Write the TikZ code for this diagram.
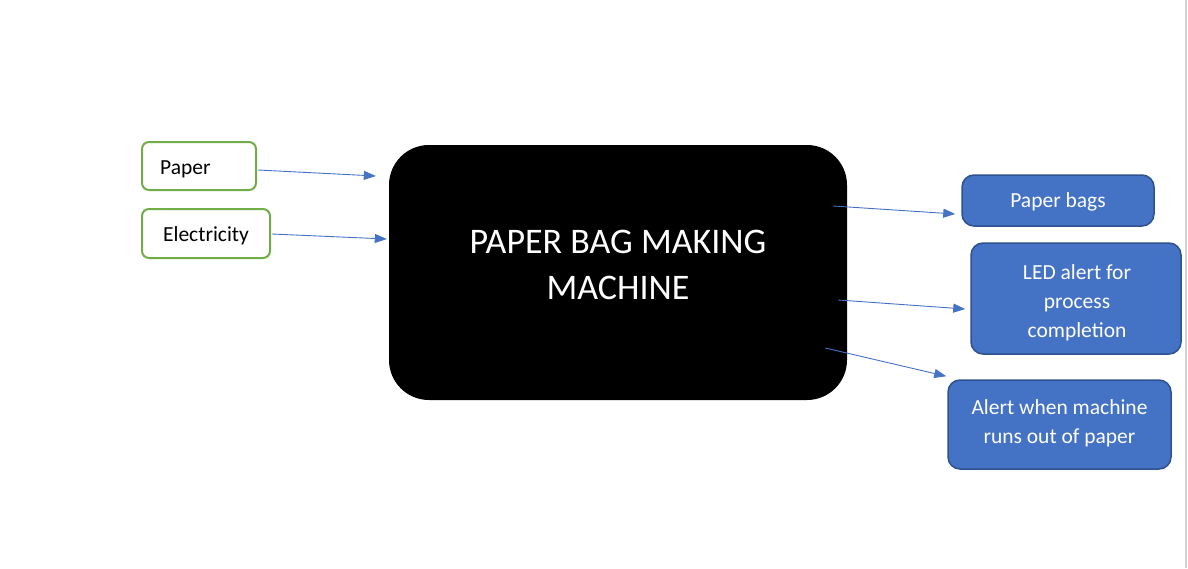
\documentclass[tikz,border=0pt]{standalone}
\usepackage{fontspec}
\setmainfont{Carlito}
\usetikzlibrary{arrows.meta,calc}
\definecolor{accblue}{HTML}{4472C4}
\definecolor{accdark}{HTML}{2F528F}
\definecolor{accgreen}{HTML}{70AD47}
\definecolor{edgegray}{HTML}{D0D0D0}
\begin{document}
\begin{tikzpicture}[x=1pt,y=-1pt,
  inbox/.style={draw=accgreen, line width=2pt, rounded corners=7pt, fill=white, inner sep=0pt},
  intext/.style={font=\fontsize{21.5}{29}\selectfont, inner sep=0pt, text=black},
  outbox/.style={draw=accdark, line width=1.5pt, rounded corners=12pt, fill=accblue, inner sep=0pt},
  outtext/.style={font=\fontsize{21.5}{29}\selectfont, inner sep=0pt, text=white, align=center},
  machinebox/.style={fill=black, rounded corners=40pt, inner sep=0pt},
  machinetext/.style={text=white, inner sep=0pt, font=\fontsize{36}{46}\selectfont, align=center},
  conn/.style={draw=accblue, line width=0.9pt, -{Triangle[length=12pt,width=9pt]}}
]
\useasboundingbox (0,0) rectangle (1188,568);
\fill[white] (0,0) rectangle (1188,568);
\draw[edgegray, line width=1.5pt] (1186,0) -- (1186,568);

\node[inbox, minimum width=114pt, minimum height=48pt] (paper) at (199,166) {};
\node[intext, anchor=west] (paperT) at ($(paper.west)+(19,3)$) {Paper};
\node[inbox, minimum width=128pt, minimum height=49pt] (elec) at (206,233.5) {};
\node[intext] (elecT) at ($(elec.center)+(0,2)$) {Electricity};

\node[machinebox, minimum width=458pt, minimum height=255pt] (machine) at (618,272.5) {};
\node[machinetext] (machineT) at ($(machine.center)+(0,-8)$) {PAPER BAG MAKING\\MACHINE};

\node[outbox, minimum width=192pt, minimum height=51pt] (bags) at (1058,200.5) {};
\node[outtext] (bagsT) at ($(bags.center)+(0,1)$) {Paper bags};
\node[outbox, minimum width=210pt, minimum height=111pt] (led) at (1076,298.5) {};
\node[outtext] (ledT) at ($(led.center)+(1,4)$) {LED alert for\\process\\completion};
\node[outbox, minimum width=223pt, minimum height=89pt] (alert) at (1059.5,424.5) {};
\node[outtext] (alertT) at ($(alert.center)+(0,-1)$) {Alert when machine\\runs out of paper};

\coordinate (paperIn) at ($(machine.west)+(-13,-96.5)$);
\coordinate (elecIn) at ($(machine.west)+(-2,-33.5)$);
\coordinate (bagsOut) at ($(machine.east)+(-14,-66.5)$);
\coordinate (ledOut) at ($(machine.east)+(-9,27.5)$);
\coordinate (alertOut) at ($(machine.east)+(-22,75.5)$);
\coordinate (bagsIn) at ($(bags.west)+(-6,13.5)$);
\coordinate (ledIn) at ($(led.west)+(-5,10.5)$);
\coordinate (alertIn) at ($(alert.north west)+(-1,-3)$);

\draw[conn] ($(paper.east)+(1,4)$) -- (paperIn);
\draw[conn] ($(elec.east)+(1,0.5)$) -- (elecIn);
\draw[conn] (bagsOut) -- (bagsIn);
\draw[conn] (ledOut) -- (ledIn);
\draw[conn] (alertOut) -- (alertIn);
\end{tikzpicture}
\end{document}
